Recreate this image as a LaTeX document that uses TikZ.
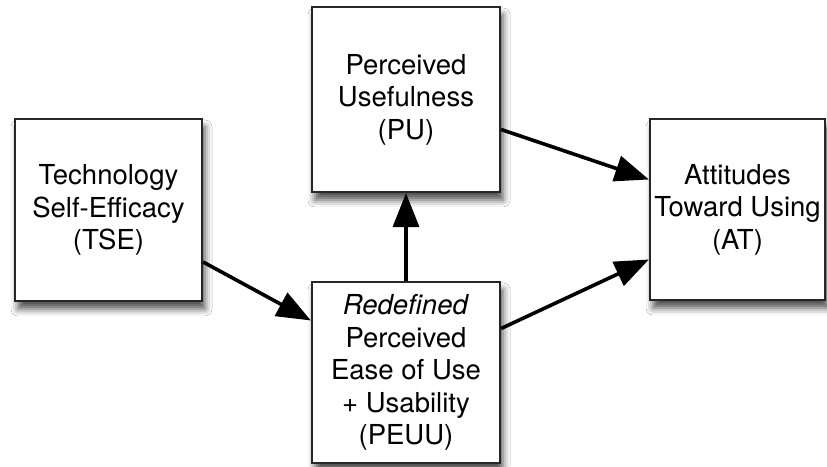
\documentclass[tikz,border=0pt]{standalone}
\usepackage{fontspec}
\setmainfont{TeX Gyre Heros}
\usetikzlibrary{arrows.meta,shadows.blur}

\tikzset{
  box/.style={draw=black!85, line width=2.2pt, fill=white, align=center,
    font=\fontsize{27.5}{32.5}\selectfont,
    blur shadow={shadow xshift=3pt, shadow yshift=-8pt,
      shadow blur radius=7pt, shadow opacity=70}},
  link/.style={line width=3.6pt, draw=black,
    -{Triangle[length=34pt, width=26pt]}}
}

\begin{document}
\begin{tikzpicture}[x=1pt, y=1pt]
  \fill[white] (0,0) rectangle (827,466);
  \useasboundingbox (0,0) rectangle (827,466);
  \clip (0,0) rectangle (827,466);

  % constructs of the model
  \node[box, minimum width=187pt, minimum height=182pt] (tse) at (108.5,256)
    {Technology\\Self-Efficacy\\(TSE)};
  \node[box, minimum width=188pt, minimum height=185pt] (pu) at (406,366.5)
    {Perceived\\Usefulness\\(PU)};
  \node[box, minimum width=188pt, minimum height=181pt] (peuu) at (406,93.5)
    {\textit{Redefined}\\Perceived\\Ease of Use\\+ Usability\\(PEUU)};
  \node[box, minimum width=175pt, minimum height=181pt] (at) at (737.5,256.5)
    {Attitudes\\Toward Using\\(AT)};

  % hypothesised paths
  \draw[link] ([yshift=-52pt]tse.east) -- ([yshift=52pt]peuu.west);
  \draw[link] (peuu.north) -- (pu.south);
  \draw[link] ([yshift=-30pt]pu.east) -- ([yshift=30pt]at.west);
  \draw[link] ([yshift=44pt]peuu.east) -- ([yshift=-50pt]at.west);
\end{tikzpicture}
\end{document}
